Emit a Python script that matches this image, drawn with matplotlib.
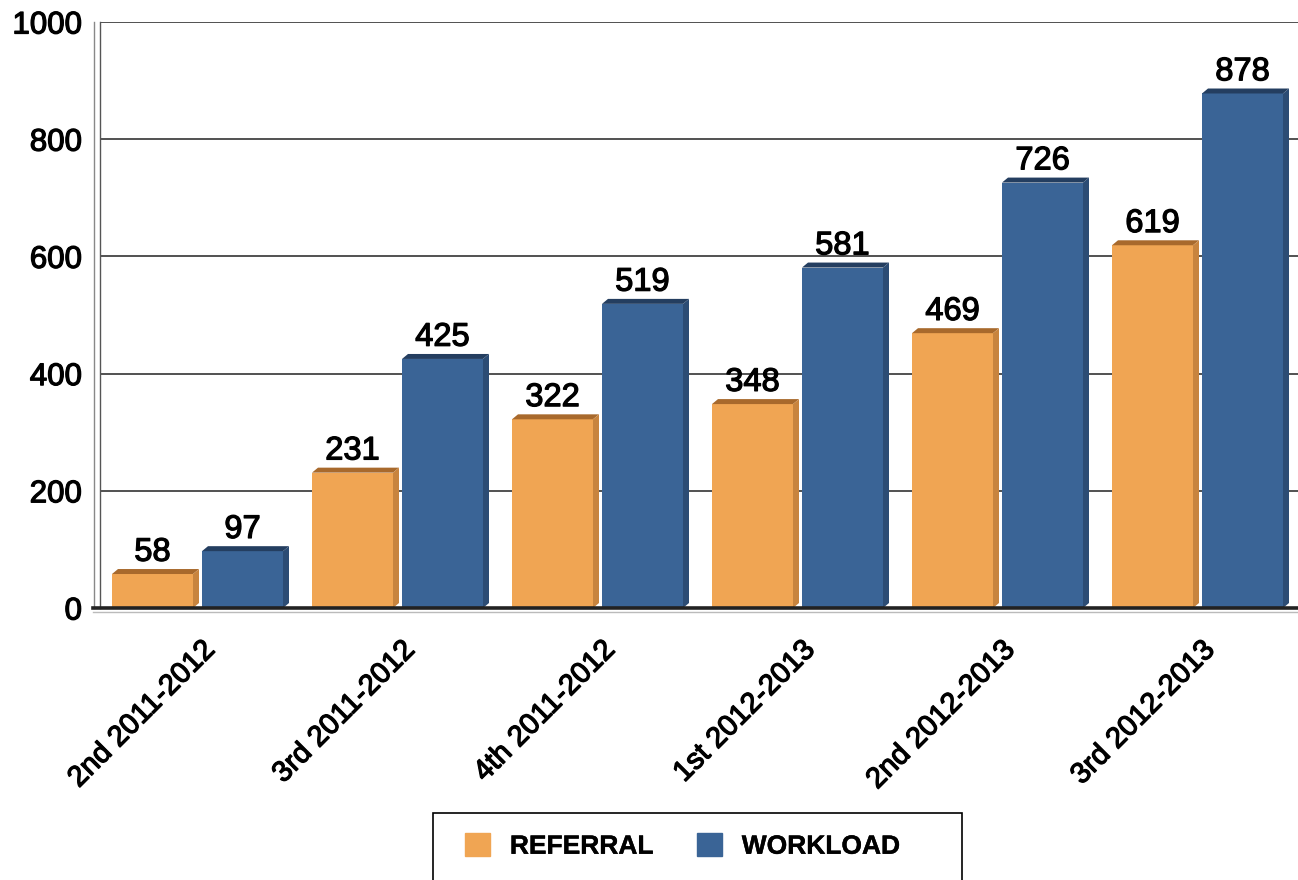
import numpy as np
import matplotlib
matplotlib.use('Agg')
import matplotlib.pyplot as plt
import matplotlib.patheffects as pe
from matplotlib.patches import Polygon, Rectangle
from matplotlib.transforms import ScaledTranslation

plt.rcParams['font.family'] = ['Liberation Sans', 'DejaVu Sans']

quarters = ['2nd 2011-2012', '3rd 2011-2012', '4th 2011-2012',
            '1st 2012-2013', '2nd 2012-2013', '3rd 2012-2013']
referral = [58, 231, 322, 348, 469, 619]
workload = [97, 425, 519, 581, 726, 878]
y_ticks = [0, 200, 400, 600, 800, 1000]

# front / side / top shades for the fake 3d look
ORANGE = ('#F0A553', '#C8843E', '#A8692C')
BLUE = ('#3A6496', '#2C4C74', '#243E60')

BAR_W = 0.405
DEPTH_X = 0.03
DEPTH_Y = 8.5

# old-style chart text is a bit heavier than plain regular
HEAVY = [pe.withStroke(linewidth=0.9, foreground='black')]


def draw_bars(ax, xs, vals, colors):
    front, side, top = colors
    ax.bar(xs, vals, width=BAR_W, align='edge', color=front, zorder=3, linewidth=0)
    for x0, v in zip(xs, vals):
        x1 = x0 + BAR_W
        ax.add_patch(Polygon([(x0, v), (x1, v), (x1 + DEPTH_X, v + DEPTH_Y), (x0 + DEPTH_X, v + DEPTH_Y)],
                             closed=True, facecolor=top, edgecolor='none', zorder=3))
        ax.add_patch(Polygon([(x1, 0), (x1, v), (x1 + DEPTH_X, v + DEPTH_Y), (x1 + DEPTH_X, DEPTH_Y)],
                             closed=True, facecolor=side, edgecolor='none', zorder=3))
        ax.annotate(str(v), (x0 + BAR_W / 2, v), xytext=(0, 9.5), textcoords='offset points',
                    ha='center', va='baseline', fontsize=23.5, zorder=5, path_effects=HEAVY)


fig = plt.figure(figsize=(12.98, 8.8), dpi=100)
ax = fig.add_axes([100 / 1298, 272 / 880, 1200 / 1298, 586 / 880])

x = np.arange(len(quarters))
draw_bars(ax, x - 0.44, referral, ORANGE)
draw_bars(ax, x + 0.01, workload, BLUE)

ax.set_xlim(-0.5, 5.5)
ax.set_ylim(0, 1000)
ax.set_yticks(y_ticks)
ax.set_yticklabels([str(t) for t in y_ticks], fontsize=22.5, path_effects=HEAVY)
ax.tick_params(axis='y', length=0, pad=13)
ax.tick_params(axis='x', length=0, pad=20)

ax.set_xticks(x)
ax.set_xticklabels(quarters, rotation=45, ha='right', va='top', fontsize=21, path_effects=HEAVY)
shift = ScaledTranslation(0.2, 0, fig.dpi_scale_trans)
for lbl in ax.get_xticklabels():
    lbl.set_transform(lbl.get_transform() + shift)

ax.yaxis.grid(True, color='#222222', linewidth=1.1, zorder=0)
ax.set_axisbelow(True)
for s in ['top', 'right', 'bottom']:
    ax.spines[s].set_visible(False)
ax.spines['left'].set_color('#555555')
ax.spines['left'].set_linewidth(1.0)
# wall edge + floor
ax.axvline(-0.53, color='#888888', linewidth=1.0, clip_on=False)
ax.plot([-0.535, 5.5], [0, 0], color='#222222', linewidth=2.6, zorder=4, clip_on=False)
ax.plot([-0.535, 5.5], [-6, -6], color='#BBBBBB', linewidth=1.0, zorder=4, clip_on=False)

# legend box, runs off the bottom edge like the original
fig.add_artist(Rectangle((433 / 1298, -0.05), 529 / 1298, 0.05 + 67 / 880, transform=fig.transFigure,
                         facecolor='white', edgecolor='black', linewidth=1.2, clip_on=False))
handles = [Rectangle((0, 0), 1, 1, color=ORANGE[0]), Rectangle((0, 0), 1, 1, color=BLUE[0])]
leg = fig.legend(handles, ['REFERRAL', 'WORKLOAD'], loc='center left', bbox_to_anchor=(465 / 1298, 1 - 846 / 880),
                 ncol=2, frameon=False, borderpad=0, borderaxespad=0, handlelength=0.95, handleheight=0.95,
                 handletextpad=0.75, columnspacing=1.65, prop={'size': 19, 'weight': 'bold'})
for t in leg.get_texts():
    t.set_path_effects([pe.withStroke(linewidth=0.3, foreground='black')])

fig.savefig('out.png', dpi=100)
